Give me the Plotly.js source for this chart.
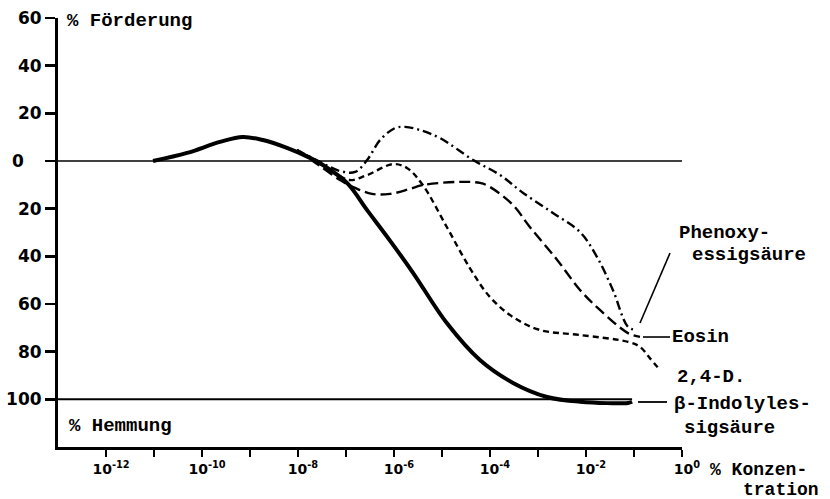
<!DOCTYPE html>
<html>
<head>
<meta charset="utf-8">
<script src="https://cdn.plot.ly/plotly-3.0.1.min.js"></script>
<style>html,body{margin:0;padding:0;background:#fff}#chart{width:830px;height:499px}</style>
</head>
<body>
<div id="chart"></div>
<script>
// x: log10 of % concentration; y: % Förderung (+) / % Hemmung (-)
const indolylLog = [-11.02, -10.31, -9.625, -9.15, -8.73, -8.23, -7.75, -7.48, -6.98, -6.56, -6.08, -5.60, -4.90, -4.21, -3.52, -2.81, -2.125, -1.125, -1.04];
const indolylVal = [0, 3.4, 8.0, 10.1, 8.8, 5.5, 1.3, -1.7, -9.2, -20.6, -33.5, -47, -68, -83.5, -93.1, -99, -101, -101.5, -101];

const phenoxyLog = [-8.02, -7.54, -7.125, -6.81, -6.56, -6.29, -5.98, -5.77, -5.46, -5.04, -4.35, -3.79, -3.31, -2.69, -2.125, -1.77, -1.44, -1.125, -0.96];
const phenoxyVal = [4.6, -0.4, -4.2, -4.6, 0.4, 8.8, 13.8, 14.3, 13.0, 9.6, 0.4, -5.9, -13.4, -21.8, -29.8, -40.3, -54.1, -69.6, -70.9];

const eosinLog = [-8.02, -7.54, -7.125, -6.81, -6.46, -6.08, -5.67, -5.40, -4.69, -4.21, -4.0, -3.52, -3.17, -2.60, -2.125, -1.71, -1.125, -0.875];
const eosinVal = [4.6, -2.1, -8.0, -11.3, -13.8, -13.8, -11.7, -10.1, -8.8, -9.2, -10.9, -18.5, -27.7, -41.5, -54.1, -62.5, -72.2, -73.8];

const d24Log = [-8.02, -7.54, -7.19, -6.92, -6.56, -6.02, -5.73, -5.40, -4.90, -4.42, -4.0, -3.52, -2.96, -2.125, -1.125, -0.875, -0.67, -0.46];
const d24Val = [4.6, -0.8, -5.5, -8.0, -5.9, -1.3, -2.9, -10.1, -27.7, -44.9, -57.1, -65.5, -70.9, -73.0, -75.9, -78.0, -82.7, -87.7];

const xTickVals = [-12, -11, -10, -9, -8, -7, -6, -5, -4, -3, -2, -1, 0];
const xTickText = ['10<sup>-12</sup>', '', '10<sup>-10</sup>', '', '10<sup>-8</sup>', '', '10<sup>-6</sup>', '', '10<sup>-4</sup>', '', '10<sup>-2</sup>', '', '10<sup>0</sup>'];
const yTickVals = [60, 40, 20, 0, -20, -40, -60, -80, -100];
const yTickText = ['60', '40', '20', '0\u00a0\u00a0\u00a0', '20', '40', '60', '80', '100'];

const labelFont = {family: 'Liberation Mono, DejaVu Sans Mono, monospace', size: 19, color: '#000', weight: 'bold'};

function curve(x, y, dash, width) {
  return {x: x, y: y, type: 'scatter', mode: 'lines', hoverinfo: 'skip', showlegend: false,
    line: {color: '#000', width: width, dash: dash, shape: 'spline', smoothing: 1}};
}

const data = [
  curve(phenoxyLog, phenoxyVal, '9px,4px,2px,4px', 2.4),
  curve(eosinLog, eosinVal, '11px,5px', 2.4),
  curve(d24Log, d24Val, '6px,4px', 2.4),
  curve(indolylLog, indolylVal, 'solid', 4)
];

function ann(text, x, y, xanchor, size) {
  const f = Object.assign({}, labelFont);
  if (size) f.size = size;
  return {text: text, xref: 'paper', yref: 'paper', x: x, y: y, xanchor: xanchor || 'left', yanchor: 'middle',
    showarrow: false, font: f};
}

const layout = {
  width: 830, height: 499,
  margin: {l: 58, r: 148, t: 18, b: 52},
  paper_bgcolor: '#fff', plot_bgcolor: '#fff',
  xaxis: {range: [-13, 0], showgrid: false, zeroline: false, showline: true, linewidth: 3, linecolor: '#000',
    ticks: 'outside', ticklen: 7, tickwidth: 2.5, tickcolor: '#000',
    tickvals: xTickVals, ticktext: xTickText, ticklabelshift: 5,
    tickfont: {family: 'DejaVu Sans', size: 14, color: '#000', weight: 'bold'}},
  yaxis: {range: [-120, 60], showgrid: false, zeroline: false, showline: true, linewidth: 3, linecolor: '#000',
    ticks: 'outside', ticklen: 10, tickwidth: 2.5, tickcolor: '#000',
    tickvals: yTickVals, ticktext: yTickText,
    tickfont: {family: 'DejaVu Sans', size: 17, color: '#000', weight: 'bold'}},
  shapes: [
    {type: 'line', xref: 'x', yref: 'y', x0: -13, x1: 0, y0: 0, y1: 0, line: {color: '#000', width: 1.6}},
    {type: 'line', xref: 'x', yref: 'y', x0: -13, x1: -1.04, y0: -100, y1: -100, line: {color: '#000', width: 2}},
    {type: 'line', xref: 'paper', yref: 'paper', x0: 0.9808, y0: 0.4522, x1: 0.9327, y1: 0.289, line: {color: '#000', width: 1.6}},
    {type: 'line', xref: 'paper', yref: 'paper', x0: 0.9375, y0: 0.2564, x1: 0.9808, y1: 0.2564, line: {color: '#000', width: 1.6}},
    {type: 'line', xref: 'paper', yref: 'paper', x0: 0.9295, y0: 0.1049, x1: 0.976, y1: 0.1049, line: {color: '#000', width: 1.8}}
  ],
  annotations: [
    ann('% Förderung', 0.0112, 0.993),
    ann('% Hemmung', 0.0144, 0.049),
    ann('Phenoxy-', 0.992, 0.4985),
    ann('essigsäure', 1.0128, 0.4479),
    ann('Eosin', 0.9808, 0.2564),
    ann('2,4-D.', 0.9888, 0.1632),
    ann('β-Indolyles-', 0.984, 0.0999),
    ann('sigsäure', 1.0, 0.0446),
    ann('% Konzen-', 1.0417, -0.0543, 'left', 18),
    ann('tration', 1.2228, -0.1000, 'right', 18)
  ]
};

Plotly.newPlot('chart', data, layout, {staticPlot: true, displayModeBar: false});
</script>
</body>
</html>
